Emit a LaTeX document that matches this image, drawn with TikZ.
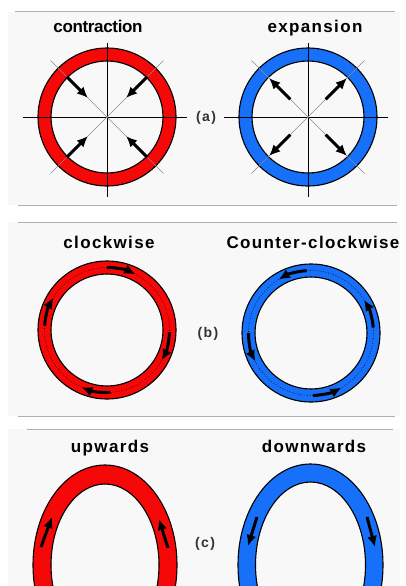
\documentclass[tikz,border=0pt]{standalone}
\usepackage{fontspec}
\setmainfont{Liberation Sans}
\usetikzlibrary{arrows.meta,calc}
\definecolor{ringred}{RGB}{245,8,8}
\definecolor{ringblue}{RGB}{22,112,250}
\definecolor{panelgray}{RGB}{248,248,248}
\definecolor{sepgray}{RGB}{175,175,175}
\newcommand\titlefont{\fontsize{17}{20}\selectfont\bfseries}

\tikzset{
  title/.style={font=\titlefont\addfontfeatures{LetterSpace=8}, anchor=base},
  title tight/.style={font=\titlefont\addfontfeatures{LetterSpace=-2}, anchor=base},
  tag/.style={font=\fontsize{14}{16}\selectfont\bfseries\addfontfeatures{LetterSpace=10}, text=black!80, anchor=base},
  ring/.style={draw=black, line width=1.1pt, even odd rule},
  axis/.style={draw=black, line width=0.6pt},
  diag/.style={draw=black!45, line width=0.5pt},
  arr/.style={-{Latex[length=11pt,width=10pt]}, line width=3pt},
  midline/.style={draw=black, dotted, line width=0.6pt},
  sep/.style={draw=sepgray, line width=1pt}
}

\begin{document}
\begin{tikzpicture}[x=1pt,y=-1pt]
		
		\useasboundingbox (0,0) rectangle (406,586);
		\clip (0,0) rectangle (406,586);
		
		% panels
		\fill[panelgray] (8,12) rectangle (400,205);
		\fill[panelgray] (8,222) rectangle (400,416);
		\fill[panelgray] (8,429) rectangle (400,586);
		\draw[sep] (15,12) -- (395,12);
		\draw[sep] (18,205) -- (397,205);
		\draw[sep] (18,222) -- (397,222);
		\draw[sep] (18,416) -- (395,416);
		\draw[sep] (27,429) -- (393,429);
		
		% (a) contraction / expansion
		\coordinate (ca) at (107,117);
		\coordinate (ea) at (308,117);
		
		\filldraw[ring, fill=ringred] (ca) circle (69) (ca) circle (56);
		\filldraw[ring, fill=ringblue] (ea) circle (69) (ea) circle (56);
		
		\foreach \c in {ca,ea} {
			\draw[axis] ($(\c)+(-84,0)$) -- ($(\c)+(80,0)$);
			\draw[axis] ($(\c)+(0,-74)$) -- ($(\c)+(0,80)$);
			\draw[diag] ($(\c)+(-135:80)$) -- ($(\c)+(45:80)$);
			\draw[diag] ($(\c)+(135:80)$) -- ($(\c)+(-45:80)$);
		}
		
		\foreach \a in {45,135,225,315} {
			\draw[arr] ($(ca)+(\a:57)$) -- ($(ca)+(\a:27)$);
			\draw[arr] ($(ea)+(\a:25)$) -- ($(ea)+(\a:55)$);
		}
		
		\node[title tight] (contr) at (98,33) {contraction};
		\node[title] (expan) at (315,33) {expansion};
		\node[tag] (taga) at (206,121) {(a)};
		
		% (b) clockwise / counter-clockwise
		\coordinate (cwb) at (107,330);
		\coordinate (ccwb) at (311,333);
		
		\filldraw[ring, fill=ringred] (cwb) circle (69) (cwb) circle (56);
		\filldraw[ring, fill=ringblue] (ccwb) circle (69) (ccwb) circle (56);
		\draw[midline] (cwb) circle (62.5);
		\draw[midline] (ccwb) circle (62.5);
		
		\foreach \s in {-90,2,87,184}
			\draw[arr] ($(cwb)+(\s:62.5)$) arc[start angle=\s, delta angle=27, radius=62.5];
		\foreach \s in {-94,-5,180,88}
			\draw[arr] ($(ccwb)+(\s:62.5)$) arc[start angle=\s, delta angle=-27, radius=62.5];
		
		\node[title] (cw) at (109,248) {clockwise};
		\node[title] (ccw) at (313,248) {Counter-clockwise};
		\node[tag] (tagb) at (208,337) {(b)};
		
		% (c) upwards / downwards
		\coordinate (upc) at (105,565);
		\coordinate (dnc) at (310.5,565);
		
		\filldraw[ring, fill=ringred] (upc) ellipse[x radius=72, y radius=100]
			(upc) ellipse[x radius=54, y radius=81];
		\filldraw[ring, fill=ringblue] (dnc) ellipse[x radius=72.5, y radius=101]
			(dnc) ellipse[x radius=55, y radius=83];
		
		\coordinate (upl1) at (41,547);
		\coordinate (upl2) at (52,517);
		\coordinate (upr1) at (168,548);
		\coordinate (upr2) at (159,519);
		\coordinate (dnl1) at (257,517);
		\coordinate (dnl2) at (248,546);
		\coordinate (dnr1) at (367,517);
		\coordinate (dnr2) at (375,547);
		
		\draw[arr] (upl1) -- (upl2);
		\draw[arr] (upr1) -- (upr2);
		\draw[arr] (dnl1) -- (dnl2);
		\draw[arr] (dnr1) -- (dnr2);
		
		\node[title] (up) at (110,452) {upwards};
		\node[title] (down) at (314,452) {downwards};
		\node[tag] (tagc) at (205,547) {(c)};
		
	\end{tikzpicture}
\end{document}
